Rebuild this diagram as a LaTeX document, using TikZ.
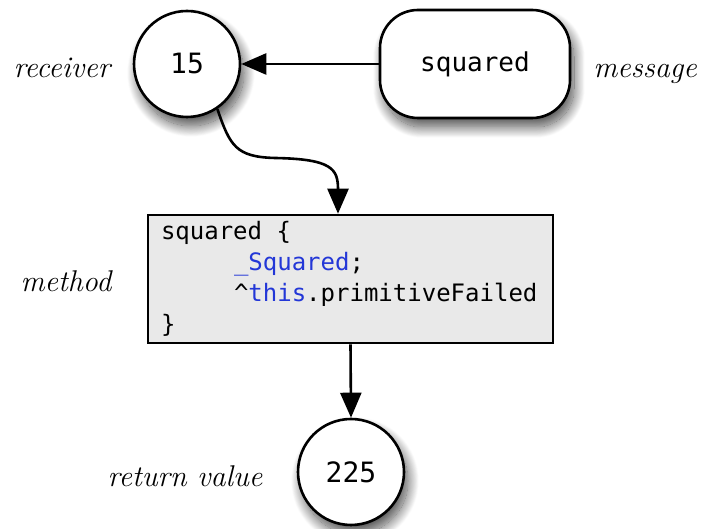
\documentclass[tikz,border=0pt]{standalone}
\usepackage{fontspec}
\setmonofont{DejaVu Sans Mono}
\usetikzlibrary{arrows.meta,shadows.blur,calc}
\definecolor{codeblue}{RGB}{35,55,215}
\definecolor{codebg}{RGB}{233,233,233}
\tikzset{
  line/.style={line width=2.6pt},
  arr/.style={line, -{Triangle[width=21pt,length=25pt]}},
  shad/.style={blur shadow={shadow xshift=4pt,shadow yshift=-9pt,shadow blur radius=11pt,shadow blur steps=25,shadow opacity=70}},
  valcircle/.style={circle, line, draw, fill=white, minimum size=106pt, inner sep=0pt, shad, font=\fontsize{28}{30}\ttfamily},
  msgbox/.style={rectangle, rounded corners=38pt, line, draw, fill=white, minimum width=190pt, minimum height=108pt, shad, font=\fontsize{26}{28}\ttfamily},
  codebox/.style={rectangle, line, draw, fill=codebg, minimum width=405pt, minimum height=128pt, inner xsep=13pt, text width=379pt, align=left, font=\fontsize{24}{31}\ttfamily},
  lbl/.style={anchor=base, font=\fontsize{30}{32}\itshape, inner sep=0pt}
}
\begin{document}
\begin{tikzpicture}[x=1pt,y=1pt]
\useasboundingbox (0,0) rectangle (701,529);
\node[valcircle] (c15) at (187,465) {15};
\node[msgbox] (msg) at (475,465) {squared};
\node[codebox] (m) at (350.5,250) {squared\hspace*{0.602em}\{\\
\hspace*{73pt}\textcolor{codeblue}{\_Squared};\\
\hspace*{73pt}\^{}\textcolor{codeblue}{this}.primitiveFailed\\
\}};
\node[valcircle] (c225) at (351,57) {225};
\node[lbl] (lrec) at (62,451) {receiver};
\node[lbl] (lmsg) at (645,451) {message};
\node[lbl] (lmeth) at (66,237) {method};
\node[lbl] (lret) at (185,42) {return value};
\draw[arr] (msg.west) -- (c15.east);
\draw[arr] (c15.-56) .. controls (230,383) and (236,372) .. (275,371)
  .. controls (332,370) and (338,360) .. ($(m.north)+(-12.5,0)$);
\draw[arr] (m.south) -- (c225.north);
\end{tikzpicture}
\end{document}
